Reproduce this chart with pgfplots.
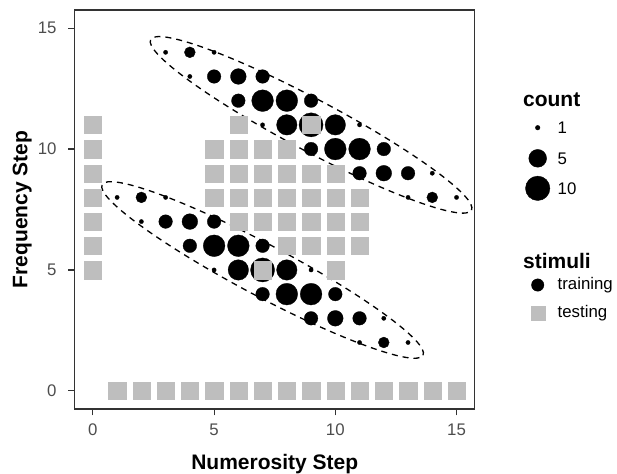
\documentclass[border=0pt]{standalone}
\usepackage{fontspec}
\setmainfont{Liberation Sans}
\usepackage{pgfplots}
\usepackage{pgfplotstable}
\pgfplotsset{compat=1.18}
\usetikzlibrary{calc}

\definecolor{testgray}{HTML}{BEBEBE}
\definecolor{axisgray}{HTML}{333333}
\definecolor{ticktext}{HTML}{4D4D4D}

% training stimuli: position and count
\pgfplotstableread{
x  y  count
3  14 1
4  14 2
5  14 1
4  13 1
5  13 3
6  13 4
7  13 3
6  12 3
7  12 8
8  12 8
9  12 3
7  11 1
8  11 7
9  11 10
10 11 7
11 11 1
9  10 3
10 10 8
11 10 8
12 10 3
11 9  3
12 9  4
13 9  3
14 9  1
13 8  1
14 8  2
15 8  1
1  8  1
2  8  2
3  8  1
2  7  1
3  7  3
4  7  4
5  7  3
4  6  3
5  6  8
6  6  8
7  6  3
5  5  1
6  5  7
7  5  10
8  5  7
9  5  1
7  4  3
8  4  8
9  4  8
10 4  3
9  3  3
10 3  4
11 3  3
12 3  1
11 2  1
12 2  2
13 2  1
}\training

% testing stimuli
\pgfplotstableread{
x  y
0  5
0  6
0  7
0  8
0  9
0  10
0  11
1  0
2  0
3  0
4  0
5  0
6  0
7  0
8  0
9  0
10 0
11 0
12 0
13 0
14 0
15 0
6  11
9  11
5  10
6  10
7  10
8  10
5  9
6  9
7  9
8  9
9  9
10 9
5  8
6  8
7  8
8  8
9  8
10 8
11 8
6  7
7  7
8  7
9  7
10 7
11 7
8  6
9  6
10 6
11 6
7  5
10 5
}\testing

\begin{document}
\begin{tikzpicture}
\begin{axis}[
  name=ax,
  width=400pt, height=399pt, scale only axis,
  xmin=-0.75, xmax=15.75, ymin=-0.75, ymax=15.75,
  xtick={0,5,10,15}, ytick={0,5,10,15},
  tick pos=left, tick align=outside,
  major tick length=6.3pt,
  every tick/.style={axisgray, line width=1.1pt},
  axis line style={axisgray, line width=1.2pt},
  /pgf/number format/assume math mode=true,
  ticklabel style={font=\fontsize{16.8}{18}\selectfont, text=ticktext, inner sep=0pt},
  xticklabel style={anchor=north, yshift=-8.6pt},
  yticklabel style={anchor=east, xshift=-11.7pt},
  xlabel={Numerosity Step}, ylabel={Frequency Step},
  every axis x label/.style={at={(rel axis cs:0.5,-0.1511)}, anchor=base,
    font=\fontsize{21}{24}\selectfont\bfseries},
  every axis y label/.style={at={(rel axis cs:-0.118,0.5)}, rotate=90, anchor=base,
    font=\fontsize{21}{24}\selectfont\bfseries},
  clip=false,
  legend cell align=left,
  legend style={at={(rel axis cs:1.12575,0.7952)}, anchor=north west,
    draw=none, fill=none, inner sep=0pt, outer sep=0pt,
    row sep=0pt, column sep=7.3pt,
    font=\fontsize{16.8}{18}\selectfont,
    nodes={inner sep=0pt, outer sep=0pt}, cells={anchor=base west}},
]

\addplot[scatter, only marks, mark=*,
  scatter/use mapped color={draw=black, fill=black},
  mark options={line width=0.3pt},
  visualization depends on={2.15+3.3*sqrt(\thisrow{count}-1) \as \rad},
  scatter/@pre marker code/.append style={/tikz/mark size=\rad},
  forget plot]
  table[x=x, y=y] {\training};

\addplot[only marks, mark=square*, mark size=8.6pt,
  mark options={fill=testgray, draw=testgray, line width=0.1pt},
  forget plot]
  table[x=x, y=y] {\testing};

\draw[black, line width=1.3pt, dash pattern=on 6pt off 5pt]
  (axis cs:9,11) circle[x radius=181.7pt, y radius=25.7pt, rotate=-28];
\draw[black, line width=1.3pt, dash pattern=on 6pt off 5pt]
  (axis cs:7,5) circle[x radius=181.7pt, y radius=25.7pt, rotate=-28];

% legend
\addlegendimage{legend image code/.code={}}
\addlegendentry[text height=15pt, text depth=5pt]{\hspace*{-34.6pt}\fontsize{21}{24}\selectfont\bfseries count}
\addlegendimage{legend image code/.code={\path (-12.5pt,0pt) (12.5pt,0pt);
  \draw[black, mark=*, mark size=2.3pt] plot coordinates {(0pt,6pt)};}}
\addlegendentry[text height=22pt, text depth=5pt]{1}
\addlegendimage{legend image code/.code={\path (-12.5pt,0pt) (12.5pt,0pt);
  \draw[black, mark=*, mark size=8.9pt] plot coordinates {(0pt,6pt)};}}
\addlegendentry[text height=25.6pt, text depth=5pt]{5}
\addlegendimage{legend image code/.code={\path (-12.5pt,0pt) (12.5pt,0pt);
  \draw[black, mark=*, mark size=12.2pt] plot coordinates {(0pt,6pt)};}}
\addlegendentry[text height=25pt, text depth=7pt]{10}
\addlegendimage{legend image code/.code={}}
\addlegendentry[text height=67pt, text depth=5pt]{\hspace*{-34.6pt}\fontsize{21}{24}\selectfont\bfseries stimuli}
\addlegendimage{legend image code/.code={\path (-12.5pt,0pt) (12.5pt,0pt);
  \draw[black, mark=*, mark size=6.2pt] plot coordinates {(0pt,4.4pt)};}}
\addlegendentry[text height=16.1pt, text depth=5pt]{training}
\addlegendimage{legend image code/.code={\path (-12.5pt,0pt) (12.5pt,0pt);
  \draw[testgray, mark=square*, mark size=7pt, mark options={fill=testgray}] plot coordinates {(0pt,4.4pt)};}}
\addlegendentry[text height=23.3pt, text depth=5pt]{testing}
\end{axis}
\pgfresetboundingbox
\path[use as bounding box] ($(ax.south west)+(-74.7pt,-64pt)$) rectangle ($(ax.north east)+(142.3pt,10pt)$);
\end{tikzpicture}
\end{document}
